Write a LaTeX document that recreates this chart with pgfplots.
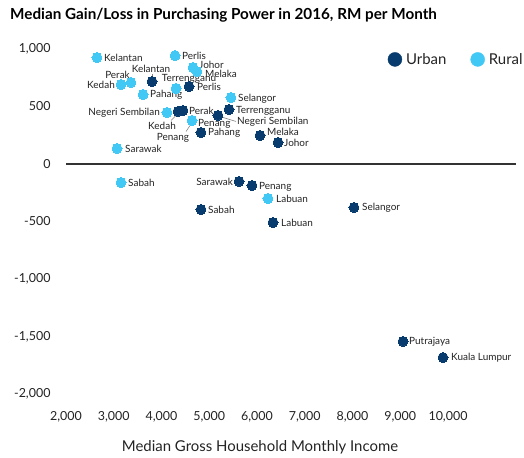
\documentclass[border=0pt]{standalone}
\usepackage{fontspec}
\setmainfont{Lato}
\usepackage{pgfplots}
\pgfplotsset{compat=1.18}
\definecolor{urban}{RGB}{8,60,110}
\definecolor{rural}{RGB}{66,200,245}
\definecolor{txt}{RGB}{35,35,35}
\tikzset{lab/.style={inner sep=0pt, font=\fontsize{10}{12}\selectfont, text=txt},
 lead/.style={draw=gray, line width=0.6bp}}
\newcommand{\lbl}[5]{\node[lab,anchor=#1,xshift=#2,yshift=#3] at (axis cs:#4) {#5};}
\begin{document}
\begin{tikzpicture}[x=1bp,y=1bp]
\useasboundingbox (0,0) rectangle (524,458);
\node[anchor=west, inner sep=0pt, font=\fontsize{15.3}{18}\selectfont\bfseries, text=black] at (10,443) {Median Gain/Loss in Purchasing Power in 2016, RM per Month};
\node[inner sep=0pt, font=\fontsize{15}{18}\selectfont, text=txt] at (260,11) {Median Gross Household Monthly Income};
\begin{axis}[
 at={(66bp,64bp)}, anchor=south west,
 scale only axis, width=450bp, height=345bp,
 xmin=2000, xmax=11424, ymin=-2000, ymax=1000,
 clip=false,
 axis line style={draw=none}, tick style={draw=none},
 scaled x ticks=false, scaled y ticks=false,
 xtick={2000,3000,...,10000}, ytick={-2000,-1500,-1000,-500,0,500,1000},
 /pgf/number format/assume math mode=true,
 /pgf/number format/1000 sep={,},
 ticklabel style={font=\fontsize{12.5}{14}\selectfont, text=txt},
 yticklabel style={xshift=-12bp},
 xticklabel style={yshift=-14bp},
 legend style={at={(1.026,1.0)}, anchor=north east, draw=none, fill=none,
   legend columns=2, font=\fontsize{15}{17}\selectfont, text=txt,
   /tikz/every even column/.style={column sep=22bp},
   /tikz/every odd column/.style={column sep=2bp}},
]
\addplot[draw=black!80, line width=1.5bp, forget plot] coordinates {(2000,0) (11424,0)};
\addplot[only marks, mark=*, mark size=5bp, color=urban, mark options={line width=0pt, fill=urban, draw=urban},
  legend image code/.code={\fill[urban] (0bp,0bp) circle (7bp);}] table {
x y
3801 717
4576 674
4346 457
4450 465
4827 274
5414 474
5183 422
6063 248
6440 187
5623 -152
5895 -187
4827 -396
6335 -509
8031 -378
9058 -1543
9895 -1683
};
\addlegendentry{Urban}
\addplot[only marks, mark=*, mark size=5bp, color=rural, mark options={line width=0pt, fill=rural, draw=rural},
  legend image code/.code={\fill[rural] (0bp,0bp) circle (7bp);}] table {
x y
2649 926
4283 943
4660 839
4743 804
3361 709
3152 691
3613 604
4304 657
5455 578
4115 448
4639 378
3068 135
3152 -161
6230 -300
};
\addlegendentry{Rural}
% rural labels
\lbl{west}{7bp}{0bp}{2649,926}{Kelantan}
\lbl{west}{7bp}{0bp}{4283,943}{Perlis}
\lbl{west}{6bp}{3bp}{4660,839}{Johor}
\lbl{west}{8bp}{-2bp}{4743,804}{Melaka}
\lbl{east}{-1bp}{8bp}{3361,709}{Perak}
\lbl{east}{-6bp}{0bp}{3152,691}{Kedah}
\lbl{west}{7bp}{0bp}{3613,604}{Pahang}
\lbl{center}{13bp}{10bp}{4304,657}{Terrengganu}
\lbl{west}{7bp}{-1bp}{5455,578}{Selangor}
\lbl{east}{-7bp}{0bp}{4115,448}{Negeri Sembilan}
\lbl{west}{6bp}{-3bp}{4639,378}{Penang}
\lbl{center}{-19bp}{-17bp}{4639,378}{Penang}
\lbl{west}{8bp}{0bp}{3068,135}{Sarawak}
\lbl{west}{7bp}{0bp}{3152,-161}{Sabah}
\lbl{west}{8bp}{0bp}{6230,-300}{Labuan}
% urban labels
\lbl{center}{-1bp}{13bp}{3801,717}{Kelantan}
\lbl{west}{8bp}{0bp}{4576,674}{Perlis}
\lbl{west}{6bp}{0bp}{4450,465}{Perak}
\lbl{center}{-16bp}{-14bp}{4346,457}{Kedah}
\lbl{west}{7bp}{0bp}{4827,274}{Pahang}
\lbl{west}{7bp}{-1bp}{5414,474}{Terrengganu}
\lbl{west}{19bp}{-6bp}{5183,422}{Negeri Sembilan}
\lbl{west}{7bp}{4bp}{6063,248}{Melaka}
\lbl{west}{6bp}{0bp}{6440,187}{Johor}
\lbl{east}{-6bp}{0bp}{5623,-152}{Sarawak}
\lbl{west}{7bp}{-1bp}{5895,-187}{Penang}
\lbl{west}{7bp}{0bp}{4827,-396}{Sabah}
\lbl{west}{8bp}{0bp}{6335,-509}{Labuan}
\lbl{west}{8bp}{0bp}{8031,-378}{Selangor}
\lbl{west}{6bp}{0bp}{9058,-1543}{Putrajaya}
\lbl{west}{8bp}{0bp}{9895,-1683}{Kuala Lumpur}
% leader lines
\draw[lead] (axis cs:3801,717) ++(0bp,5bp) -- ++(0bp,3bp);
\draw[lead] (axis cs:4346,457) ++(-2bp,-4bp) -- ++(-5bp,-5bp);
\draw[lead] (axis cs:4639,378) ++(-2bp,-5bp) -- ++(-4bp,-6bp);
\draw[lead] (axis cs:5183,422) ++(5bp,-2bp) -- ++(13bp,-4bp);
\end{axis}
\end{tikzpicture}
\end{document}
